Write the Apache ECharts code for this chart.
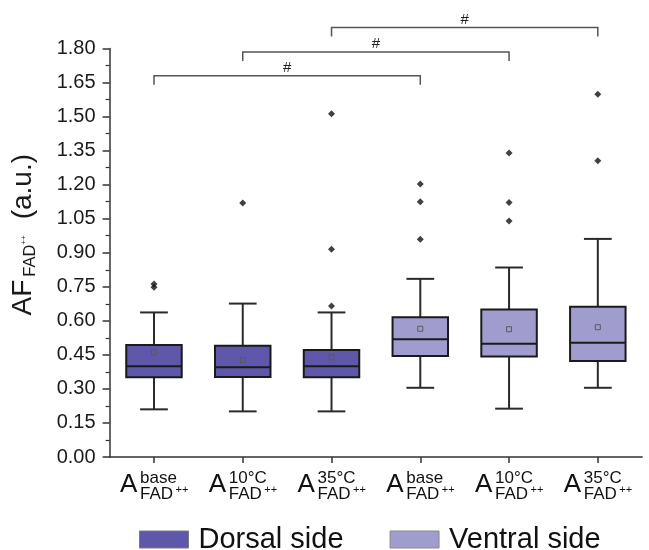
<!DOCTYPE html>
<html><head><meta charset="utf-8">
<script src="https://cdn.jsdelivr.net/npm/echarts@6/dist/echarts.min.js"></script>
<style>html,body{margin:0;padding:0;background:#fff}#c{width:649px;height:550px}</style>
</head><body><div id="c"></div>
<script>
// ---------- data ----------
const categories = ['D-base', 'D-10', 'D-35', 'V-base', 'V-10', 'V-35'];
const supLabels = ['base', '10°C', '35°C', 'base', '10°C', '35°C'];
const subLabel = 'FAD';
const yTickInterval = 0.15;
const yMin = 0;
const yMax = 1.8;
// each box: [min, q1, median, q3, max, mean]
const dorsalBoxes = [
  [0.210, 0.351, 0.400, 0.494, 0.637, 0.462],
  [0.201, 0.352, 0.396, 0.490, 0.676, 0.427],
  [0.201, 0.351, 0.400, 0.471, 0.637, 0.439]
];
const ventralBoxes = [
  [0.305, 0.445, 0.519, 0.616, 0.785, 0.565],
  [0.213, 0.443, 0.499, 0.650, 0.835, 0.563],
  [0.305, 0.423, 0.503, 0.662, 0.961, 0.572]
];
const dorsalIdx = [0, 1, 2];
const ventralIdx = [3, 4, 5];
// outliers: [category index, value]
const outliers = [
  [0, 0.762], [0, 0.748],
  [1, 1.119],
  [2, 0.665], [2, 0.915], [2, 1.512],
  [3, 0.959], [3, 1.125], [3, 1.203],
  [4, 1.040], [4, 1.121], [4, 1.340],
  [5, 1.305], [5, 1.598]
];
// significance brackets: [from index, to index, level]
const brackets = [[0, 3, 1.68], [1, 4, 1.785], [2, 5, 1.893]];
const bracketMark = '#';

// ---------- style ----------
const FONT = '"Liberation Sans", Arial, Helvetica, sans-serif';
const DORSAL = '#5F57AA';
const VENTRAL = '#A19CCE';
const INK = '#1a1a1a';

function renderBox(params, api) {
  const idx = api.value(0);
  const pMin = api.coord([idx, api.value(1)]);
  const pQ1 = api.coord([idx, api.value(2)]);
  const pMed = api.coord([idx, api.value(3)]);
  const pQ3 = api.coord([idx, api.value(4)]);
  const pMax = api.coord([idx, api.value(5)]);
  const pMean = api.coord([idx, api.value(6)]);
  const band = api.size([1, 0])[0];
  const bw = band * 0.625;
  const cw = bw * 0.5;
  const x = pMin[0];
  const color = api.visual('color');
  const ls = { stroke: '#2a2a2a', lineWidth: 2 };
  return {
    type: 'group',
    children: [
      { type: 'line', shape: { x1: x, y1: pQ3[1], x2: x, y2: pMax[1] }, style: ls },
      { type: 'line', shape: { x1: x, y1: pQ1[1], x2: x, y2: pMin[1] }, style: ls },
      { type: 'line', shape: { x1: x - cw / 2, y1: pMax[1], x2: x + cw / 2, y2: pMax[1] }, style: ls },
      { type: 'line', shape: { x1: x - cw / 2, y1: pMin[1], x2: x + cw / 2, y2: pMin[1] }, style: ls },
      { type: 'rect', shape: { x: x - bw / 2, y: pQ3[1], width: bw, height: pQ1[1] - pQ3[1] },
        style: { fill: color, stroke: INK, lineWidth: 2 } },
      { type: 'line', shape: { x1: x - bw / 2, y1: pMed[1], x2: x + bw / 2, y2: pMed[1] },
        style: { stroke: INK, lineWidth: 2 } },
      { type: 'rect', shape: { x: x - 2.5, y: pMean[1] - 2.5, width: 5, height: 5 },
        style: { fill: null, stroke: '#5a5a5a', lineWidth: 1 } }
    ]
  };
}

function renderLabel(params, api) {
  const i = api.value(0);
  const p = api.coord([i, 0]);
  const cx = p[0], y0 = p[1];
  const base = { fill: '#111', align: 'left', verticalAlign: 'middle', fontFamily: FONT };
  return {
    type: 'group',
    children: [
      { type: 'text', style: Object.assign({}, base, { text: 'A', x: cx - 34, y: y0 + 28.3, fontSize: 26 }) },
      { type: 'text', style: Object.assign({}, base, { text: supLabels[i], x: cx - 14, y: y0 + 21.4, fontSize: 17 }) },
      { type: 'text', style: Object.assign({}, base, { text: subLabel, x: cx - 14, y: y0 + 37, fontSize: 17 }) },
      { type: 'text', style: Object.assign({}, base, { text: '++', x: cx + 21.5, y: y0 + 32.5, fontSize: 11 }) }
    ]
  };
}

function renderBracket(params, api) {
  const a = api.coord([api.value(0), api.value(2)]);
  const b = api.coord([api.value(1), api.value(2)]);
  const drop = api.size([0, 0.04])[1];
  return {
    type: 'group',
    children: [
      { type: 'polyline', shape: { points: [[a[0], a[1] + drop], [a[0], a[1]], [b[0], b[1]], [b[0], b[1] + drop]] },
        style: { stroke: '#555', lineWidth: 1.5, fill: null } },
      { type: 'text', style: { text: bracketMark, x: (a[0] + b[0]) / 2, y: a[1] - 8, align: 'center',
        verticalAlign: 'middle', fontSize: 15, fontFamily: FONT, fill: '#222' } }
    ]
  };
}

const chart = echarts.init(document.getElementById('c'), null, { renderer: 'canvas' });
chart.setOption({
  animation: false,
  backgroundColor: '#fff',
  textStyle: { fontFamily: FONT },
  grid: { left: 109.6, right: 6.8, top: 48.5, bottom: 93, containLabel: false },
  legend: {
    left: 139, top: 525, padding: 0,
    itemWidth: 49, itemHeight: 17, itemGap: 46,
    icon: 'rect',
    textStyle: { fontSize: 29, color: '#111', fontFamily: FONT, padding: [0, 0, 0, 5] },
    data: [
      { name: 'Dorsal side', icon: 'rect', itemStyle: { color: DORSAL, borderColor: '#7a7a7a', borderWidth: 1 } },
      { name: 'Ventral side', icon: 'rect', itemStyle: { color: VENTRAL, borderColor: '#8a8a8a', borderWidth: 1 } }
    ]
  },
  xAxis: {
    type: 'category',
    data: categories,
    boundaryGap: true,
    axisLine: { show: true, lineStyle: { color: '#333', width: 1.5 } },
    axisTick: { show: true, alignWithLabel: true, length: 6, lineStyle: { color: '#333', width: 1.5 } },
    axisLabel: { show: false },
    splitLine: { show: false }
  },
  yAxis: {
    type: 'value',
    min: yMin, max: yMax, interval: yTickInterval,
    name: '{a|AF}{b|FAD}{c|++}{d|(a.u.)}',
    nameLocation: 'middle',
    nameGap: 71,
    nameTextStyle: {
      color: '#1a1a1a',
      padding: [0, 0, 0, 36],
      rich: {
        a: { fontSize: 28, lineHeight: 30, verticalAlign: 'middle', fontFamily: FONT, color: '#1a1a1a' },
        b: { fontSize: 16.5, lineHeight: 12, verticalAlign: 'bottom', padding: [0, 0, 0, 3], fontFamily: FONT, color: '#1a1a1a' },
        c: { fontSize: 8, verticalAlign: 'middle', fontFamily: FONT, color: '#1a1a1a' },
        d: { fontSize: 28, lineHeight: 30, verticalAlign: 'middle', padding: [0, 0, 0, 16], fontFamily: FONT, color: '#1a1a1a' }
      }
    },
    axisLine: { show: true, lineStyle: { color: '#333', width: 1.5 } },
    axisTick: { show: true, length: 7, lineStyle: { color: '#333', width: 1.5 } },
    minorTick: { show: true, splitNumber: 2, length: 4, lineStyle: { color: '#333', width: 1.2 } },
    axisLabel: { fontSize: 20, color: '#1a1a1a', margin: 14, formatter: v => v.toFixed(2) },
    splitLine: { show: false },
    minorSplitLine: { show: false }
  },
  series: [
    {
      name: 'Dorsal side', type: 'custom', renderItem: renderBox,
      itemStyle: { color: DORSAL },
      encode: { x: 0, y: [1, 2, 3, 4, 5] },
      data: dorsalBoxes.map((b, k) => [dorsalIdx[k]].concat(b)), z: 3
    },
    {
      name: 'Ventral side', type: 'custom', renderItem: renderBox,
      itemStyle: { color: VENTRAL },
      encode: { x: 0, y: [1, 2, 3, 4, 5] },
      data: ventralBoxes.map((b, k) => [ventralIdx[k]].concat(b)), z: 3
    },
    {
      name: 'outliers', type: 'scatter', symbol: 'diamond', symbolSize: 7,
      itemStyle: { color: '#111' }, data: outliers, z: 4, silent: true
    },
    {
      name: 'labels', type: 'custom', renderItem: renderLabel, clip: false, silent: true,
      encode: { x: 0, y: 1 },
      data: categories.map((c, i) => [i, 0])
    },
    {
      name: 'brackets', type: 'custom', renderItem: renderBracket, clip: false, silent: true,
      encode: { x: 0, y: 2 },
      data: brackets
    }
  ]
});
</script>
</body></html>
